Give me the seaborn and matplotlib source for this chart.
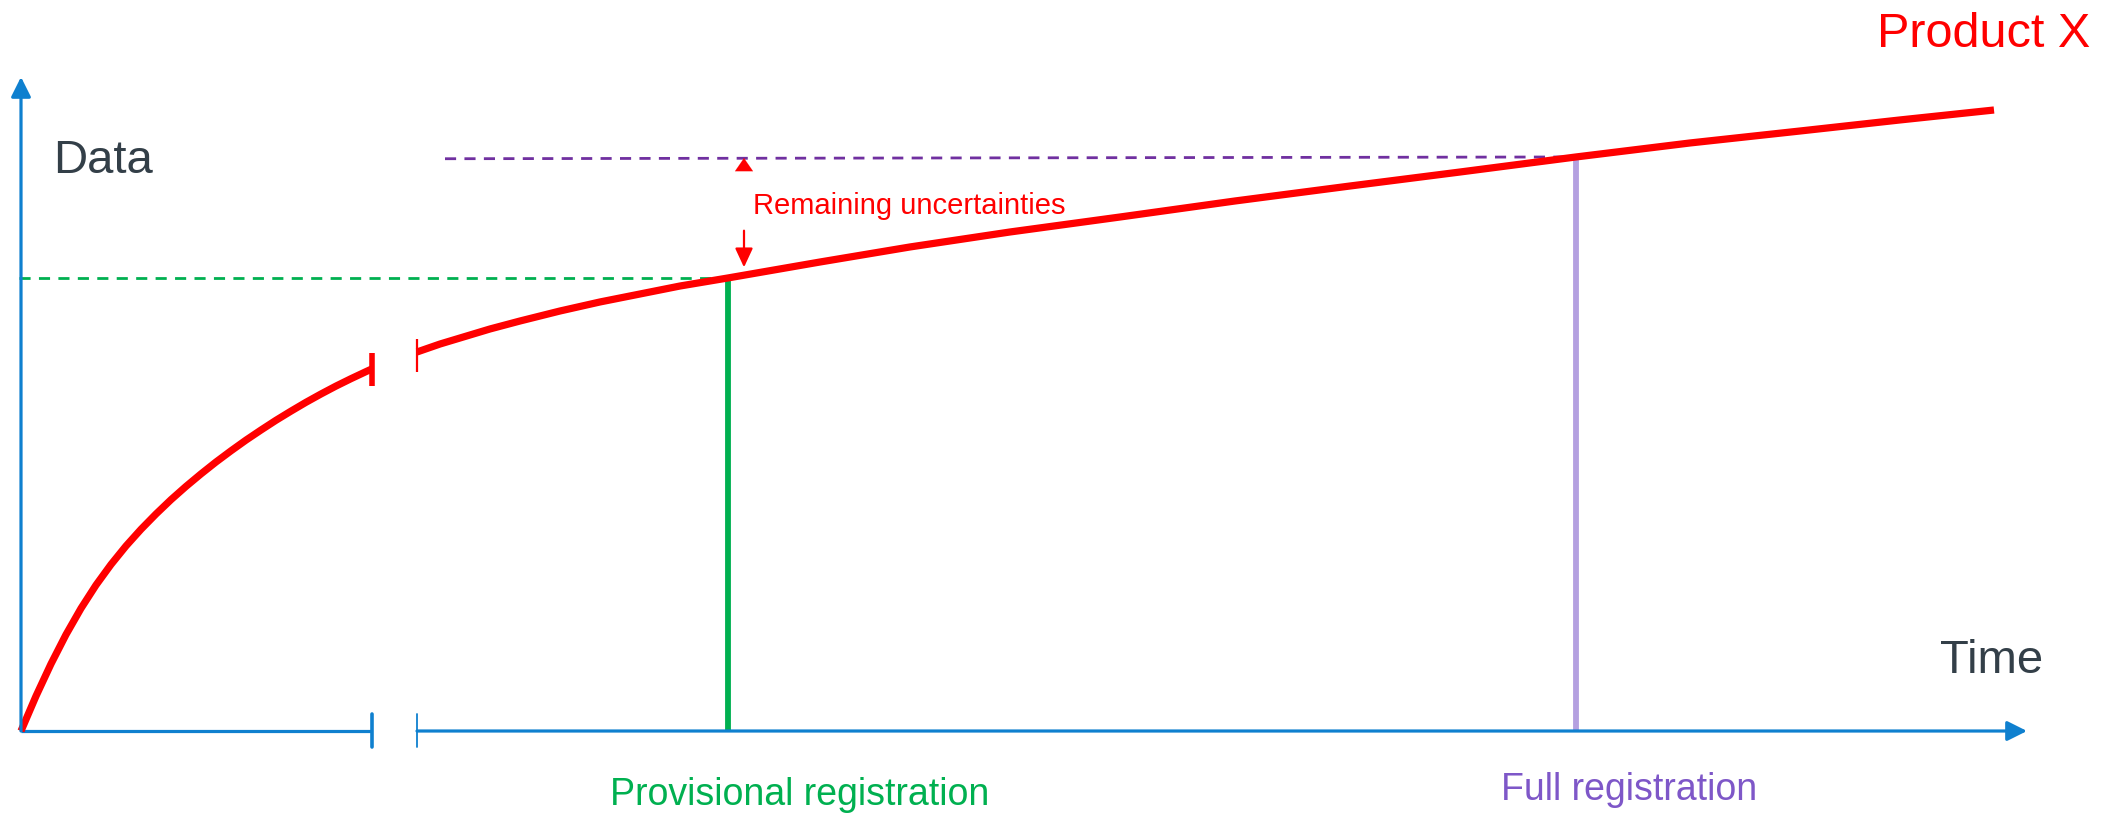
import numpy as np
import pandas as pd
import matplotlib
matplotlib.use("Agg")
import matplotlib.pyplot as plt
import seaborn as sns

# === data (time units / data units) ===
time_early = [0, 0.75, 1.5, 2.25, 3.0, 3.75, 4.5, 5.25, 6.0, 6.75, 7.5, 8.25, 9.0,
              9.75, 10.5, 11.25, 12.0, 12.75, 13.5, 14.25, 15.0, 15.75, 16.5, 17.25, 17.55]
data_early = [0, 5.34, 10.26, 14.74, 18.75, 22.31, 25.46, 28.29, 30.84, 33.18, 35.37, 37.40,
              39.31, 41.13, 42.84, 44.48, 46.02, 47.51, 48.91, 50.26, 51.53, 52.74, 53.87,
              54.95, 55.37]

time_late = [19.8, 20.95, 21.95, 23.45, 24.95, 26.95, 28.95, 30.95, 32.95, 35.35,
             39.95, 44.45, 49.45, 54.95, 60.7, 66.45, 71.95, 77.75, 83.45, 88.95, 93.95, 98.65]
data_late = [57.95, 59.17, 60.09, 61.47, 62.69, 64.22, 65.6, 66.82, 68.04, 69.27,
             71.71, 74.01, 76.3, 78.59, 81.04, 83.33, 85.47, 87.77, 89.91, 91.74, 93.43, 94.95]

break_start = 17.55
break_end = 19.8
provisional_time = 35.35
provisional_level = 69.27
full_time = 77.75
full_level = 87.77
purple_dash_start = 21.2
purple_dash_level_start = 87.5
time_axis_end = 100.3
data_axis_end = 100.0

RED = "#ff0000"
BLUE = "#0f80cf"
GREEN = "#00b050"
PURPLE_DARK = "#7030a0"
PURPLE_LIGHT = "#b4a0e0"
PURPLE_TEXT = "#7e57c8"
DARK = "#333f48"

df_early = pd.DataFrame({"time": time_early, "data": data_early})
df_late = pd.DataFrame({"time": time_late, "data": data_late})

sns.set_style("white")
plt.rcParams['font.family'] = ['Liberation Sans', 'DejaVu Sans']

fig = plt.figure(figsize=(21.03, 8.14), dpi=100)
ax = fig.add_axes([0, 0, 1, 1])
ax.set_xlim(-1.05, 104.1)
ax.set_ylim(-12.69, 111.77)
ax.axis("off")

axis_arrow = dict(arrowstyle="-|>,head_length=0.5,head_width=0.25",
                  color=BLUE, lw=2.3, mutation_scale=24, shrinkA=0, shrinkB=0)

# === axes with arrows ===
ax.plot([0, break_start], [0, 0], color=BLUE, lw=2.3, solid_capstyle="butt")
ax.annotate("", xy=(time_axis_end, 0), xytext=(break_end, 0), arrowprops=axis_arrow)
ax.annotate("", xy=(0, data_axis_end), xytext=(0, 0), arrowprops=axis_arrow)
# axis break ticks
ax.plot([break_start, break_start], [-2.4, 2.6], color=BLUE, lw=2.6)
ax.plot([break_end, break_end], [-2.4, 2.6], color=BLUE, lw=1.3)

# === reference lines ===
ax.plot([-0.1, provisional_time], [provisional_level, provisional_level],
        color=GREEN, lw=2, dashes=(4, 3))
ax.plot([provisional_time, provisional_time], [0, provisional_level],
        color=GREEN, lw=4.2, solid_capstyle="butt")
ax.plot([purple_dash_start, full_time], [purple_dash_level_start, full_level],
        color=PURPLE_DARK, lw=2, dashes=(4, 3))
ax.plot([full_time, full_time], [0, full_level],
        color=PURPLE_LIGHT, lw=4.2, solid_capstyle="butt")

# === the curve ===
sns.lineplot(data=df_early, x="time", y="data", ax=ax, color=RED, lw=5.2,
             estimator=None, sort=False, solid_joinstyle="round", solid_capstyle="butt")
sns.lineplot(data=df_late, x="time", y="data", ax=ax, color=RED, lw=5.2,
             estimator=None, sort=False, solid_joinstyle="round", solid_capstyle="butt")
ax.plot([break_start, break_start], [52.8, 57.8], color=RED, lw=4, solid_capstyle="butt")
ax.plot([break_end, break_end], [54.9, 59.9], color=RED, lw=1.6, solid_capstyle="butt")

# === remaining uncertainties arrows ===
ax.annotate("", xy=(36.15, 87.6), xytext=(36.15, 86.2),
            arrowprops=dict(arrowstyle="-|>,head_length=0.55,head_width=0.38",
                            color=RED, lw=0.1, mutation_scale=17, shrinkA=0, shrinkB=0))
ax.annotate("", xy=(36.15, 70.9), xytext=(36.15, 76.5),
            arrowprops=dict(arrowstyle="-|>,head_length=0.58,head_width=0.27",
                            color=RED, lw=1.6, mutation_scale=20, shrinkA=0, shrinkB=0))

# === text ===
ax.text(36.6, 79.1, "Remaining uncertainties", color=RED, fontsize=21, va="baseline", ha="left")
ax.text(1.6, 85.3, "Data", color=DARK, fontsize=34, va="baseline", ha="left")
ax.text(92.8, 104.6, "Product X", color=RED, fontsize=35, va="baseline", ha="left")
ax.text(95.95, 8.9, "Time", color=DARK, fontsize=34, va="baseline", ha="left")
ax.text(38.95, -11.3, "Provisional registration", color=GREEN, fontsize=27,
        va="baseline", ha="center")
ax.text(80.4, -10.6, "Full registration", color=PURPLE_TEXT, fontsize=27,
        va="baseline", ha="center")

fig.savefig("out.png", dpi=100)
